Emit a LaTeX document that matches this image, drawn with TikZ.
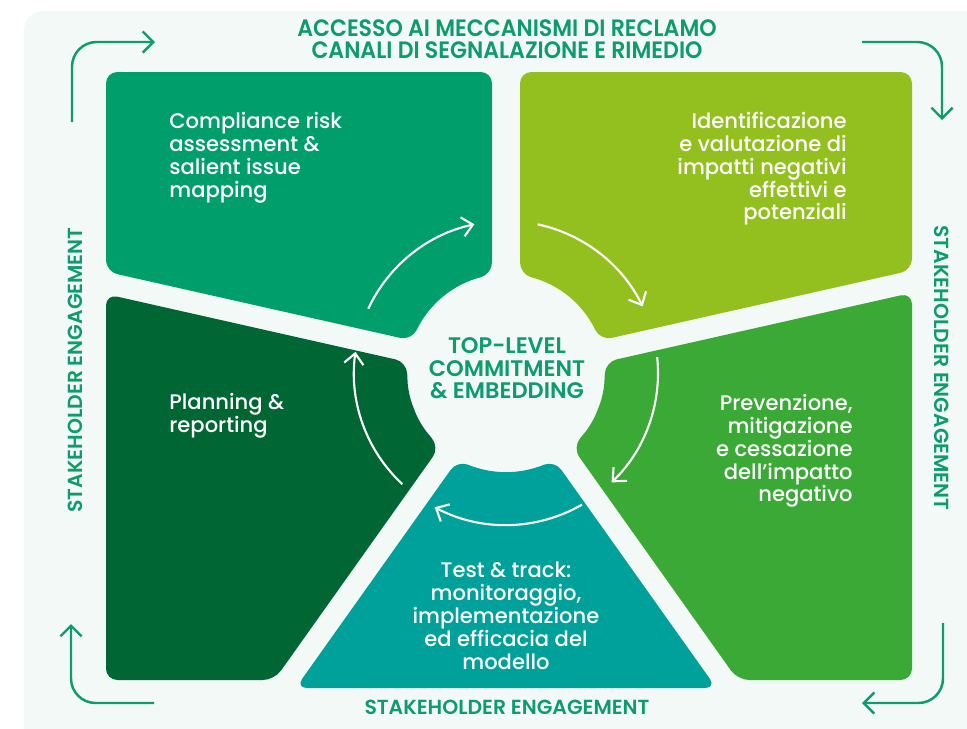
\documentclass[tikz,border=0pt]{standalone}
\usepackage{fontspec}
\setmainfont{Poppins}[UprightFont=* Medium, BoldFont=* SemiBold]
\newfontfamily\condfont{Poppins}[UprightFont=* SemiBold, FakeStretch=0.93]
\usepackage{tikz}
\usetikzlibrary{calc,arrows.meta}

\definecolor{panel}{HTML}{F3F9F7}
\definecolor{cmpl}{HTML}{009E6B}
\definecolor{ident}{HTML}{93C01F}
\definecolor{prev}{HTML}{3AA935}
\definecolor{testtr}{HTML}{00A19A}
\definecolor{plan}{HTML}{006633}
\definecolor{ink}{HTML}{0E9B6D}

\begin{document}
\begin{tikzpicture}[x=0.02cm, y=-0.02cm,
          piece/.style={rounded corners=6.5pt},
          bodytxt/.style={text=white, inner sep=0pt, font=\fontsize{12}{13}\selectfont},
          centretxt/.style={text=ink, inner sep=0pt, align=center,
              font=\bfseries\fontsize{12.8}{13}\selectfont},
          headtxt/.style={text=ink, inner sep=0pt, align=center,
              font=\condfont\fontsize{13.5}{13}\selectfont},
          sidetxt/.style={text=ink, inner sep=0pt, font=\bfseries\fontsize{11.6}{12}\selectfont},
          cyc/.style={draw=white, line width=1.2pt, -{Straight Barb[length=6pt, width=11pt]}},
          outerarr/.style={draw=ink, line width=1.4pt, rounded corners=14pt,
              -{Straight Barb[length=6pt, width=12pt]}}
        ]
        \clip (0,0) rectangle (967,728);
        \fill[white] (0,0) rectangle (967,728);
        \fill[panel, rounded corners=11pt] (24,11) rectangle (1000,760);
        \coordinate (C) at (506,373);

        \fill[cmpl, piece] (106,72) -- (492,72) -- (492,274)
            -- ($(C)+(246:100)$) -- ($(C)+(230:100)$) -- ($(C)+(214:100)$)
            -- (411.4,340.4) -- (106,271.6) -- cycle;
        \fill[ident, piece] (520,72) -- (912,72) -- (912,270.2) -- (600.5,340.4)
            -- ($(C)+(326:100)$) -- ($(C)+(310:100)$) -- ($(C)+(294:100)$)
            -- (520,274) -- cycle;
        \fill[plan, piece] (106,294.1) -- (406.6,361.9)
            -- ($(C)+(168:100)$) -- ($(C)+(150:100)$)
            -- (439.4,447.6) -- (274.3,680) -- (106,680) -- cycle;
        \fill[prev, piece] (912,292.8) -- (912,680) -- (737.7,680) -- (572.6,447.6)
            -- ($(C)+(30:100)$) -- ($(C)+(12:100)$) -- (605.4,361.9) -- cycle;
        \fill[testtr, piece] (457.4,460.4) -- (295.6,688) -- (716.4,688) -- (554.6,460.4)
            -- ($(C)+(75:100)$) -- ($(C)+(90:100)$) -- ($(C)+(105:100)$) -- cycle;

        \node[bodytxt, anchor=north west, align=left] (cmpltxt) at (169,112)
            {Compliance risk\\assessment \&\\salient issue\\mapping};
        \node[bodytxt, anchor=north east, align=right] (identtxt) at (847,112)
            {Identificazione\\e valutazione di\\impatti negativi\\effettivi e\\potenziali};
        \node[bodytxt, anchor=north west, align=left] (plantxt) at (169,393)
            {Planning \&\\reporting};
        \node[bodytxt, anchor=north east, align=right] (prevtxt) at (853,394)
            {Prevenzione,\\mitigazione\\e cessazione\\dell’impatto\\negativo};
        \node[bodytxt, anchor=north, align=center] (testtxt) at (506,562)
            {Test \& track:\\monitoraggio,\\implementazione\\ed efficacia del\\modello};
        \node[centretxt, anchor=north] (core) at (507,337)
            {TOP-LEVEL\\COMMITMENT\\\& EMBEDDING};
        \node[headtxt, anchor=north] (access) at (507,19)
            {ACCESSO AI MECCANISMI DI RECLAMO\\CANALI DI SEGNALAZIONE E RIMEDIO};
        \node[sidetxt, rotate=90] (seleft) at (75,370) {STAKEHOLDER ENGAGEMENT};
        \node[sidetxt, rotate=-90] (seright) at (942,368) {STAKEHOLDER ENGAGEMENT};
        \node[sidetxt] (sebottom) at (507,707) {STAKEHOLDER ENGAGEMENT};

        \foreach \a/\b in {205/258, 282/334, 354/406, 60/118, 133/188}
          \draw[cyc] ($(C)+(\a:152)$) arc[start angle=\a, end angle=\b, radius=152];

        \coordinate (tls) at (72,122);  \coordinate (tle) at (155,42);
        \coordinate (trs) at (862,42);  \coordinate (tre) at (942,120);
        \coordinate (brs) at (943,623); \coordinate (bre) at (862,703);
        \coordinate (bls) at (154,703); \coordinate (ble) at (71,624);
        \draw[outerarr] (tls) |- (tle);
        \draw[outerarr] (trs) -| (tre);
        \draw[outerarr] (brs) |- (bre);
        \draw[outerarr] (bls) -| (ble);
      \end{tikzpicture}
\end{document}
